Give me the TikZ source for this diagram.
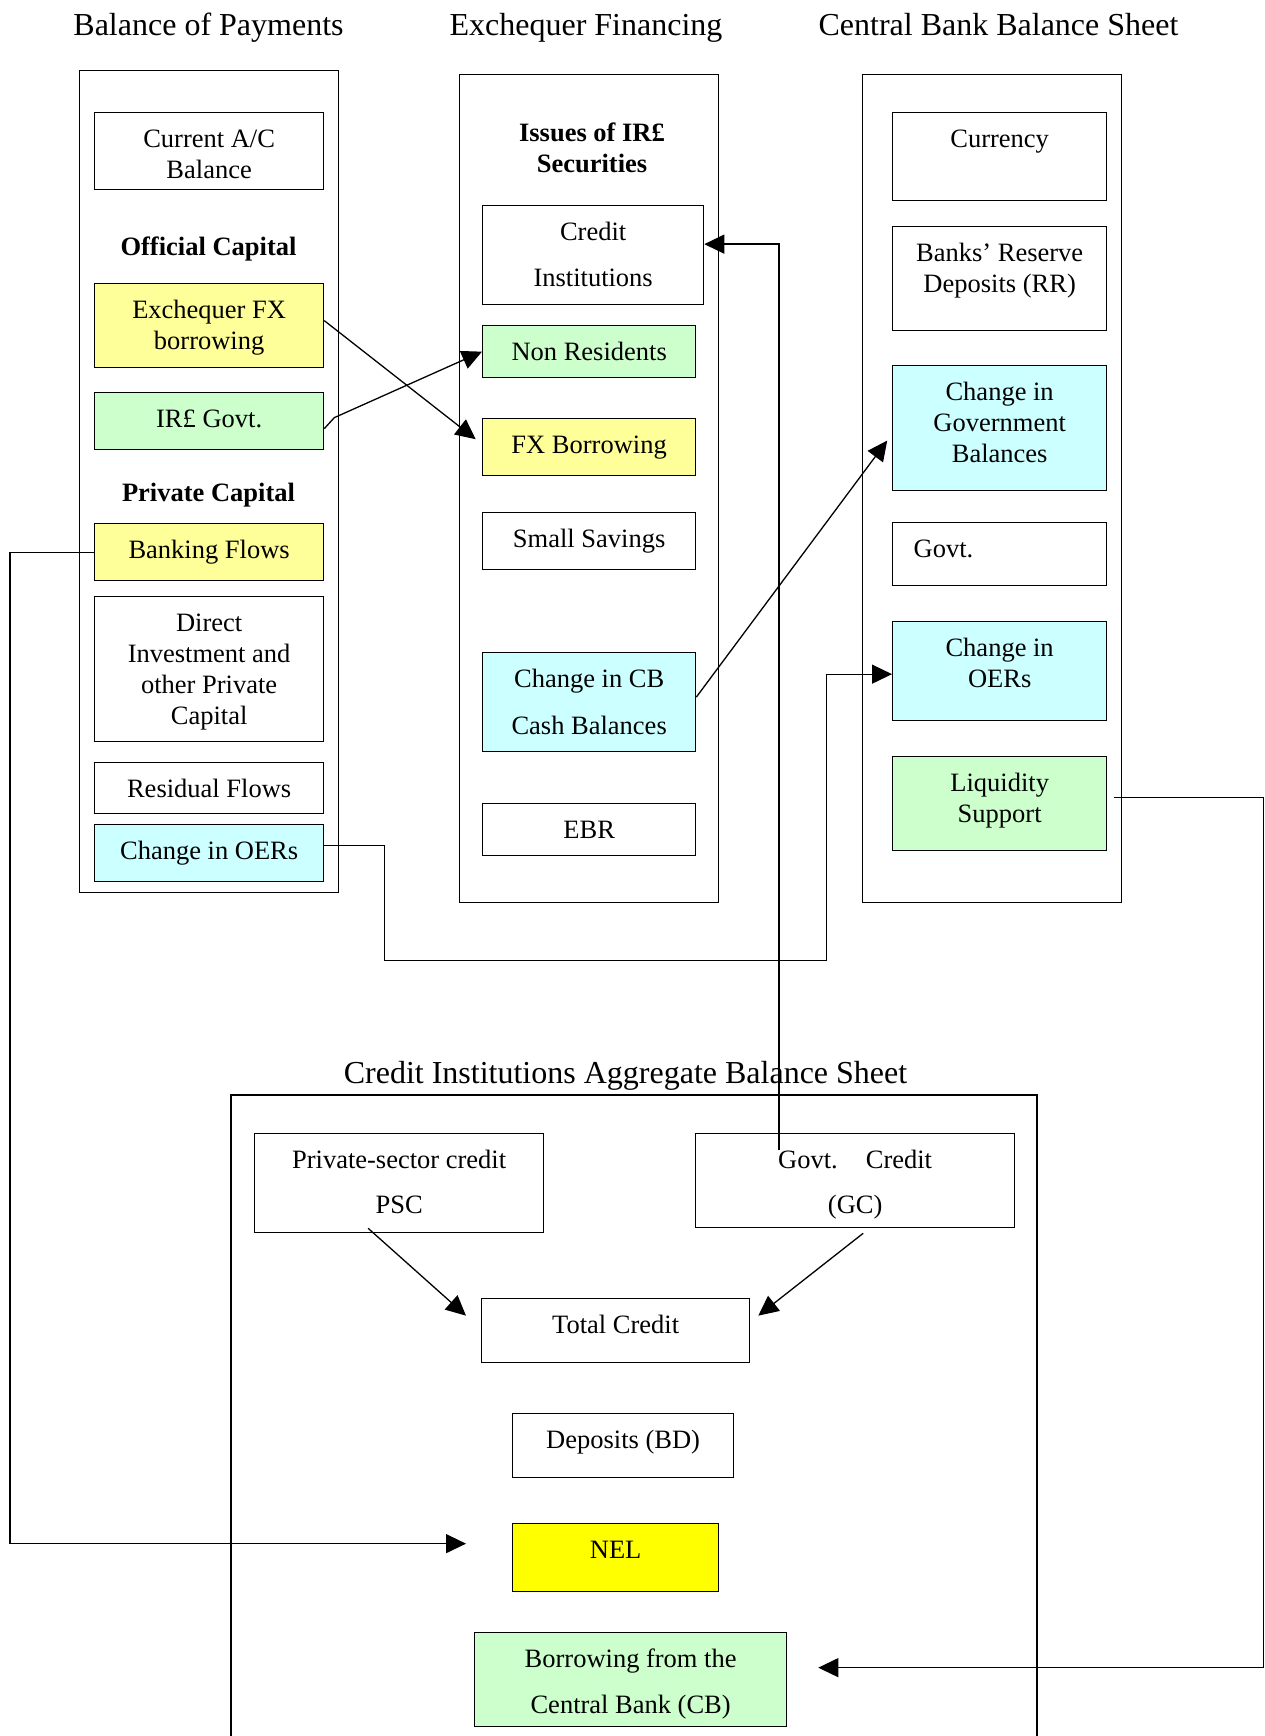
\documentclass[tikz,border=0pt]{standalone}
\usepackage{fontspec}
\setmainfont{Liberation Serif}
\usetikzlibrary{arrows.meta,calc}
\definecolor{paleyellow}{HTML}{FFFF99}
\definecolor{palegreen}{HTML}{CCFFCC}
\definecolor{palecyan}{HTML}{CCFFFF}
\definecolor{nelyellow}{HTML}{FFFF00}
\newcommand{\boxfont}{\fontsize{26.5}{31}\selectfont}
\newcommand{\titlefont}{\fontsize{32}{36}\selectfont}
% text box: width, height, lines (first baseline 35pt below the top)
\newcommand{\cellbox}[3]{\parbox[c][#2][t]{#1}{\centering\rule{0pt}{35pt}#3}}
\tikzstyle{panel} = [draw=black, line width=1.2pt, rectangle, inner sep=0pt, anchor=north west]
\tikzstyle{entry} = [draw=black, line width=1.3pt, rectangle, inner sep=0pt,
    anchor=north west, font=\boxfont]
\tikzstyle{coltitle} = [font=\titlefont, anchor=base]
\tikzstyle{grouphead} = [font=\boxfont\bfseries, align=center]
\tikzstyle{link} = [line width=1.3pt, -{Triangle[length=20pt,width=19pt]}]

\begin{document}
\begin{tikzpicture}[x=1pt, y=-1pt]
\useasboundingbox (0,0) rectangle (1265,1736);

% column titles
\node[coltitle] (boptitle) at (208.5,36) {Balance of Payments};
\node[coltitle] (exftitle) at (586,36) {Exchequer Financing};
\node[coltitle] (cbstitle) at (998.5,36) {Central Bank Balance Sheet};

% balance of payments
\node[panel, minimum width=259pt, minimum height=822pt] (bop) at (79,70) {};
\node[entry] (cur) at (94,112) {\cellbox{229pt}{77pt}{Current A/C\\Balance}};
\node[grouphead, anchor=base] (official) at (208.5,255) {Official Capital};
\node[entry, fill=paleyellow] (exfx) at (94,283) {\cellbox{229pt}{84pt}{Exchequer FX\\borrowing}};
\node[entry, fill=palegreen] (irgovt) at (94,392) {\cellbox{229pt}{57pt}{IR£ Govt.}};
\node[grouphead, anchor=base] (private) at (208.5,501) {Private Capital};
\node[entry, fill=paleyellow] (bank) at (94,523) {\cellbox{229pt}{57pt}{Banking Flows}};
\node[entry] (direct) at (94,596) {\cellbox{229pt}{145pt}{Direct\\Investment and\\other Private\\Capital}};
\node[entry] (resid) at (94,762) {\cellbox{229pt}{51pt}{Residual Flows}};
\node[entry, fill=palecyan] (oer1) at (94,824) {\cellbox{229pt}{57pt}{Change in OERs}};

% exchequer financing
\node[panel, minimum width=259pt, minimum height=827.5pt] (exf) at (459,74) {};
\node[grouphead] (issues) at (592,148) {Issues of IR£\\Securities};
\node[entry] (cinst) at (482,205) {\cellbox{221pt}{99pt}{Credit\\[15pt]Institutions}};
\node[entry, fill=palegreen] (nonres) at (482,325) {\cellbox{213pt}{52pt}{Non Residents}};
\node[entry, fill=paleyellow] (fxb) at (482,418) {\cellbox{213pt}{57pt}{FX Borrowing}};
\node[entry] (small) at (482,512) {\cellbox{213pt}{57pt}{Small Savings}};
\node[entry, fill=palecyan] (cbcash) at (482,652) {\cellbox{213pt}{99pt}{Change in CB\\[16pt]Cash Balances}};
\node[entry] (ebr) at (482,803) {\cellbox{213pt}{52pt}{EBR}};

% central bank balance sheet
\node[panel, minimum width=259pt, minimum height=827.5pt] (cbs) at (862,74) {};
\node[entry] (curr) at (892,112) {\cellbox{214pt}{88pt}{Currency}};
\node[entry] (brr) at (892,226) {\cellbox{214pt}{104pt}{Banks’ Reserve\\Deposits (RR)}};
\node[entry, fill=palecyan] (govbal) at (892,365) {\cellbox{214pt}{125pt}{Change in\\Government\\Balances}};
\node[entry] (govt) at (892,522) {\parbox[c][63pt][t]{214pt}{\rule{0pt}{35pt}\hspace*{21pt}Govt.}};
\node[entry, fill=palecyan] (oer2) at (892,621) {\cellbox{214pt}{99pt}{Change in\\OERs}};
\node[entry, fill=palegreen] (liq) at (892,756) {\cellbox{214pt}{94pt}{Liquidity\\Support}};

% credit institutions
\node[coltitle] (cititle) at (625.5,1083) {Credit Institutions Aggregate Balance Sheet};
\draw[line width=1.2pt] (231,1745) |- (1037,1095) -- (1037,1745);
\node[entry] (psc) at (254,1133) {\cellbox{289pt}{99pt}{Private-sector credit\\[14pt]PSC}};
\node[entry] (gc) at (695,1133) {\cellbox{319pt}{94pt}{Govt.\hspace{28pt}Credit\\[14pt](GC)}};
\node[entry] (total) at (481,1298) {\cellbox{268pt}{64pt}{Total Credit}};
\node[entry] (dep) at (512,1413) {\cellbox{221pt}{64pt}{Deposits (BD)}};
\node[entry, fill=nelyellow] (nel) at (512,1523) {\cellbox{206pt}{68pt}{NEL}};
\node[entry, fill=palegreen] (bor) at (474,1632) {\cellbox{312pt}{94pt}{Borrowing from the\\[15pt]Central Bank (CB)}};

% flows
\draw[link, shorten >=8pt] ($(exfx.east)+(0,-5)$) -- ($(fxb.west)+(0,-3)$);
\draw[link] ($(irgovt.east)+(0,7.5)$) -- ++(10,-11) -- (nonres.west);
\draw[link] ($(gc.north west)+(84,17)$) |- ($(cinst.east)+(0,-11)$);
\draw[link, shorten >=8pt] ($(cbcash.east)+(0,-5)$) -- ($(govbal.west)+(0,6)$);
\draw[link] ($(oer1.east)+(0,-8)$) -- ++(60,0) -- ++(0,115) -- ++(442,0) |- ($(oer2.west)+(0,3)$);
\draw[link, shorten >=46pt] (bank.west) -- ++(-84,0) |- ($(nel.west)+(0,-14)$);
\draw[link, shorten <=7pt, shorten >=31pt] ($(liq.east)+(0,-6.5)$) -- ++(156,0) |- ($(bor.east)+(0,-12)$);
\draw[link] ($(psc.south)+(-31,-5)$) -- ($(total.west)+(-15,-15)$);
\draw[link] ($(gc.south)+(8,5)$) -- ($(total.east)+(8,-15)$);
\end{tikzpicture}
\end{document}
